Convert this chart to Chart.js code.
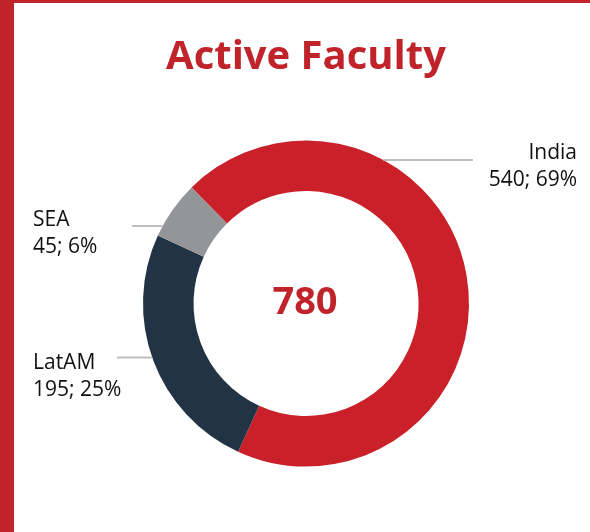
<!DOCTYPE html>
<html>
<head>
<meta charset="utf-8">
<script src="https://cdn.jsdelivr.net/npm/chart.js@4"></script>
<style>
  html, body { margin: 0; padding: 0; background: #fff; }
  body { width: 590px; height: 532px; position: relative; overflow: hidden; }
  #leftbar { position: absolute; left: 0; top: 0; width: 14px; height: 532px; background: #C1232B; }
  #topbar { position: absolute; left: 0; top: 0; width: 590px; height: 3px; background: #C1232B; }
  #wrap { position: absolute; left: 22px; top: 3px; width: 568px; height: 529px; }
</style>
</head>
<body>
<div id="leftbar"></div>
<div id="topbar"></div>
<div id="wrap"><canvas id="c" width="568" height="529"></canvas></div>
<script>
const categories = ['India', 'LatAM', 'SEA'];
const values = [540, 195, 45];
const colors = ['#C9202A', '#223345', '#939598'];
const titleText = 'Active Faculty';

// label placement (offsets relative to doughnut centre, px)
const labelSides = ['right', 'left', 'left'];
const lineDy = [-143.5, 54, -77.5];
const lineEndDx = [167, -189, -174];
const textDx = [271, -273, -273];
const firstBaseDy = [-144.2, 65.8, -77.5];
const lineGap = 26.5;

const total = values.reduce((a, b) => a + b, 0);

const labelPlugin = {
  id: 'labelPlugin',
  afterDatasetsDraw(chart) {
    const ctx = chart.ctx;
    const meta = chart.getDatasetMeta(0);
    const arc = meta.data[0];
    const cx = arc.x, cy = arc.y, R = arc.outerRadius;
    ctx.save();
    // centre total
    ctx.fillStyle = '#C1232B';
    ctx.font = '700 38px "Open Sans"';
    ctx.textAlign = 'center';
    ctx.textBaseline = 'alphabetic';
    ctx.fillText(String(total), cx - 1, cy + 10.3);
    // labels
    ctx.font = '400 21px "Open Sans"';
    ctx.fillStyle = '#111';
    for (let i = 0; i < categories.length; i++) {
      const y = cy + lineDy[i];
      const edge = Math.sqrt(Math.max(R * R - lineDy[i] * lineDy[i], 0));
      const xStart = labelSides[i] === 'right' ? cx + edge : cx - edge;
      ctx.strokeStyle = '#BFBFBF';
      ctx.lineWidth = 2;
      ctx.beginPath();
      ctx.moveTo(xStart, y);
      ctx.lineTo(cx + lineEndDx[i], y);
      ctx.stroke();
      const pct = Math.round(values[i] / total * 100);
      ctx.textAlign = labelSides[i] === 'right' ? 'right' : 'left';
      const tx = cx + textDx[i];
      const by = cy + firstBaseDy[i];
      ctx.fillText(categories[i], tx, by);
      ctx.fillText(values[i] + '; ' + pct + '%', tx, by + lineGap);
    }
    ctx.restore();
  }
};

new Chart(document.getElementById('c'), {
  type: 'doughnut',
  data: {
    labels: categories,
    datasets: [{
      data: values,
      backgroundColor: colors,
      borderWidth: 0,
      hoverOffset: 0,
      spacing: 0
    }]
  },
  options: {
    responsive: false,
    animation: false,
    rotation: -44.6,
    cutout: '69%',
    layout: { padding: { left: 121, right: 121, top: 0, bottom: 65.5 } },
    plugins: {
      legend: { display: false },
      tooltip: { enabled: false },
      title: {
        display: true,
        text: titleText,
        color: '#C1232B',
        font: { family: '"Open Sans"', size: 40, weight: '700', lineHeight: 1.2 },
        padding: { top: 31, bottom: 58.5 }
      }
    }
  },
  plugins: [labelPlugin]
});
</script>
</body>
</html>
